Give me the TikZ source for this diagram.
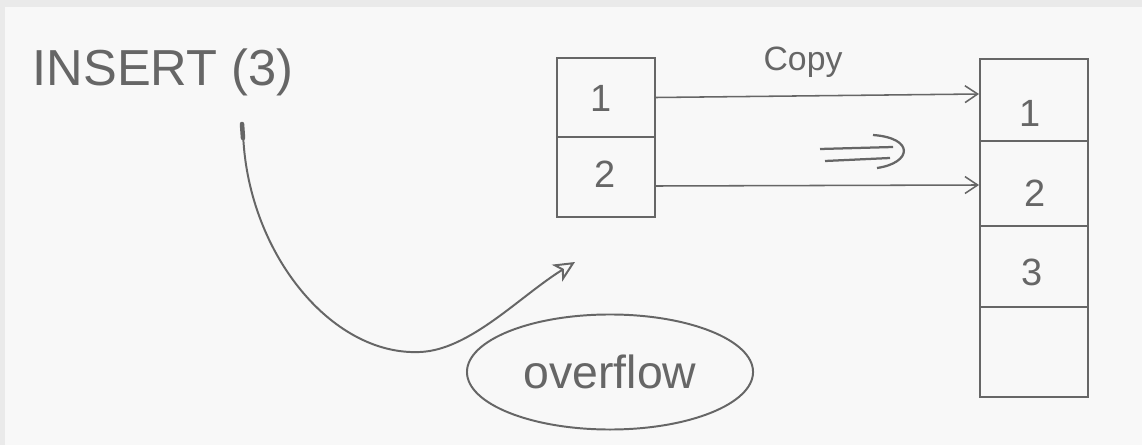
\documentclass[tikz,border=0pt]{standalone}
\usepackage{fontspec}
\setmainfont{Liberation Sans}
\usetikzlibrary{arrows.meta,shapes.geometric,calc}
\definecolor{ink}{HTML}{666666}
\definecolor{paper}{HTML}{F8F8F8}
\definecolor{frame}{HTML}{EAEAEA}
\begin{document}
\begin{tikzpicture}[x=0.025cm,y=-0.025cm,line width=1.4pt,
  cell/.style={draw=ink,rectangle,inner sep=0pt},
  smallcell/.style={cell,minimum width=2.45cm},
  bigcell/.style={cell,minimum width=2.7cm},
  digit/.style={text=ink,inner sep=0pt,font=\fontsize{27}{30}\selectfont},
  hand/.style={text=ink,inner sep=0pt},
  copyarrow/.style={draw=ink,line width=1.1pt,-{Straight Barb[length=9pt,width=12pt,line width=1.1pt]}},
  curvearrow/.style={draw=ink,-{Stealth[open,length=15pt,width=14pt,inset=4pt,line width=1.4pt]}}]
\fill[frame] (0,0) rectangle (1142,445);
\fill[paper] (5,7) rectangle (1142,445);
\useasboundingbox (0,0) rectangle (1142,445);

% title
\node[hand,font=\fontsize{36}{40}\selectfont] (insert) at (163,72) {INSERT (3)};

% small array
\node[smallcell,minimum height=1.975cm] (s1) at (606,97.5) {};
\node[smallcell,minimum height=2cm] (s2) at (606,177) {};
\node[digit] (s1t) at (601,98) {1};
\node[digit] (s2t) at (605,174) {2};

% big array
\node[bigcell,minimum height=2.05cm] (b1) at (1034,100) {};
\node[bigcell,minimum height=2.125cm] (b2) at (1034,183.5) {};
\node[bigcell,minimum height=2.025cm] (b3) at (1034,266.5) {};
\node[bigcell,minimum height=2.25cm] (b4) at (1034,352) {};
\node[digit] (b1t) at (1030,113) {1};
\node[digit] (b2t) at (1035,193) {2};
\node[digit] (b3t) at (1032,272) {3};

% copy arrows
\draw[copyarrow] (s1.east) -- ($(b1.west)+(0,-6)$);
\draw[copyarrow] ($(s2.east)+(0,9)$) -- ($(b2.west)+(0,1.5)$);
\node[hand,font=\fontsize{24}{28}\selectfont] (copy) at (803,62) {Copy};

% implies symbol
\draw[ink,line width=1.6pt] (820,149) -- (893,147);
\draw[ink,line width=1.6pt] (825,161) -- (890,158);
\draw[ink,line width=1.6pt] (873,135) .. controls (915,138) and (912,163) .. (877,168);

% insert curve
\coordinate (dot) at (243,131);
\coordinate (tip) at (575,262);
\draw[ink,line width=3.2pt,line cap=round] (242,124) -- (243,138);
\draw[curvearrow] (dot) .. controls (246,250) and (330,356) .. (420,352)
  .. controls (470,350) and (520,296) .. (tip);

% overflow ellipse
\node[draw=ink,ellipse,minimum width=7.15cm,minimum height=2.875cm,inner sep=0pt,
  text=ink,font=\fontsize{33}{36}\selectfont] (ovf) at (610,372) {\raisebox{-6pt}{overflow}};
\end{tikzpicture}
\end{document}
